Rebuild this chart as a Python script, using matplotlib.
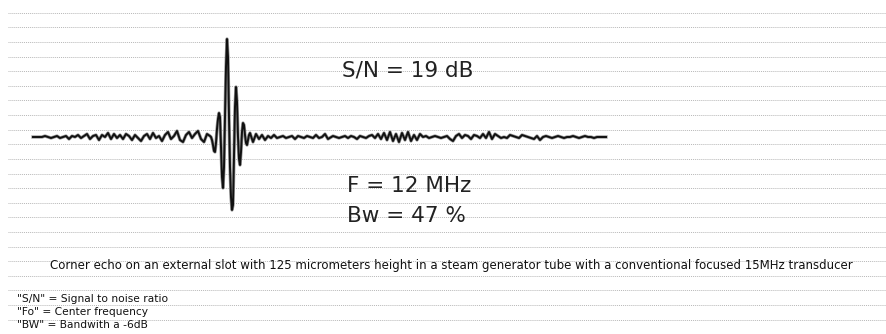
import numpy as np
import matplotlib
matplotlib.use("Agg")
import matplotlib.pyplot as plt

# Echo signal: (start time in us, sample step in us, amplitudes)
noise_left_a = [0, 0, 0, 0, 1, 0, -1, 0, 1, -1, 0, 1, -2, 1, 0, 2, -1, 1, 3, -2,
                1, 2, -3, 2, 0, 4, -2, 3, -1, 2]
noise_left_b = [-2, 3, 1, -3, 2, -1, -4, 1, 3, -2, 4, -1, 1, -4, 2, 5, -2, 1, 6, -3,
                -5, 2, 5, -1, 3, 6, -2, -5, 3, 1]
echo_burst = [0, -3, -8, -14, -15, -6, 8, 18, 24, 20, -10, -40, -51, -30, 20, 70,
              98, 80, 20, -30, -60, -73, -68, -20, 30, 50, 35, 0, -22, -28, -15, 5,
              14, 12, 2, -6, -8, -3, 2, 4]
noise_right_a = [-5, 3, -2, 2, -3, 1, -1, 2, -1, 0, 1, -1, 0, 1, -2, 1, 0, -1, 1, 0,
                 -1, 2, -1, 0, 3, -2]
noise_right_b = [1, 0, -1, 0, 1, -1, 1, 0, -2, 1, 0, -1, 1, 2, -1, 3, -2, 4, -3, 5,
                 -4, 3, -5, 4, -3, 5, -4, 2, -3, 3]
noise_right_c = [0, 1, -1, 0, 1, 0, -1, 0, 1, -2, -4, 1, 3, -1, 2, 1, -2, 2, 1, -1,
                 3, -1, 5, -2, 3, 1, -1, 0, -1, 2]
noise_right_d = [1, 0, -1, 2, 1, 0, -1, -2, 1, -3, 0, 1, 0, -1, 0, 1, 0, -1, 0, 0,
                 1, 0, -1, 0, 1, 0, 0, -1, 0, 0, 0, 0]

segments = [
    (0.00, 0.03, noise_left_a),
    (0.90, 0.03, noise_left_b),
    (1.78, 0.01, echo_burst),
    (2.20, 0.03, noise_right_a),
    (3.00, 0.03, noise_right_b),
    (3.90, 0.03, noise_right_c),
    (4.80, 0.03, noise_right_d),
]

labels = ["S/N = 19 dB", "F = 12 MHz", "Bw = 47 %"]
caption = ("Corner echo on an external slot with 125 micrometers height in a steam "
           "generator tube with a conventional focused 15MHz transducer")
notes = ['"S/N" = Signal to noise ratio', '"Fo" = Center frequency',
         '"BW" = Bandwith a -6dB']

time = []
amp = []
for t0, dt, vals in segments:
    for i, v in enumerate(vals):
        time.append(t0 + i * dt)
        amp.append(v)

fig = plt.figure(figsize=(8.86, 3.34), dpi=100)
ax = fig.add_axes([0, 0, 1, 1])
ax.set_xlim(-0.33, 8.53)
ax.set_ylim(-197, 137)
ax.axis("off")

# ruled background lines
for y in np.arange(124.3, -200, -14.62):
    ax.plot([-0.25, 8.53], [y, y], color="#b8b8b8", lw=0.7,
            linestyle=(0, (1, 1)), zorder=0)

ax.plot(time, amp, color="#9a9a9a", lw=2.4, zorder=1)
ax.plot(time, amp, color="#111111", lw=1.4, zorder=2)

# measurement labels
ax.text(3.09, 61, labels[0], fontsize=15.5, family="DejaVu Sans",
        color="#222222", va="baseline", ha="left")
ax.text(3.14, -55, labels[1], fontsize=15.5, family="DejaVu Sans",
        color="#222222", va="baseline", ha="left")
ax.text(3.14, -85, labels[2], fontsize=15.5, family="DejaVu Sans",
        color="#222222", va="baseline", ha="left")

ax.text(4.185, -131.5, caption, fontsize=8.5, family="DejaVu Sans",
        color="#111111", va="baseline", ha="center")

for i, note in enumerate(notes):
    ax.text(-0.165, -164.5 - i * 13.3, note, fontsize=7.7, family="DejaVu Sans",
            color="#111111", va="baseline", ha="left")

fig.savefig("out.png", dpi=100, facecolor="white")
